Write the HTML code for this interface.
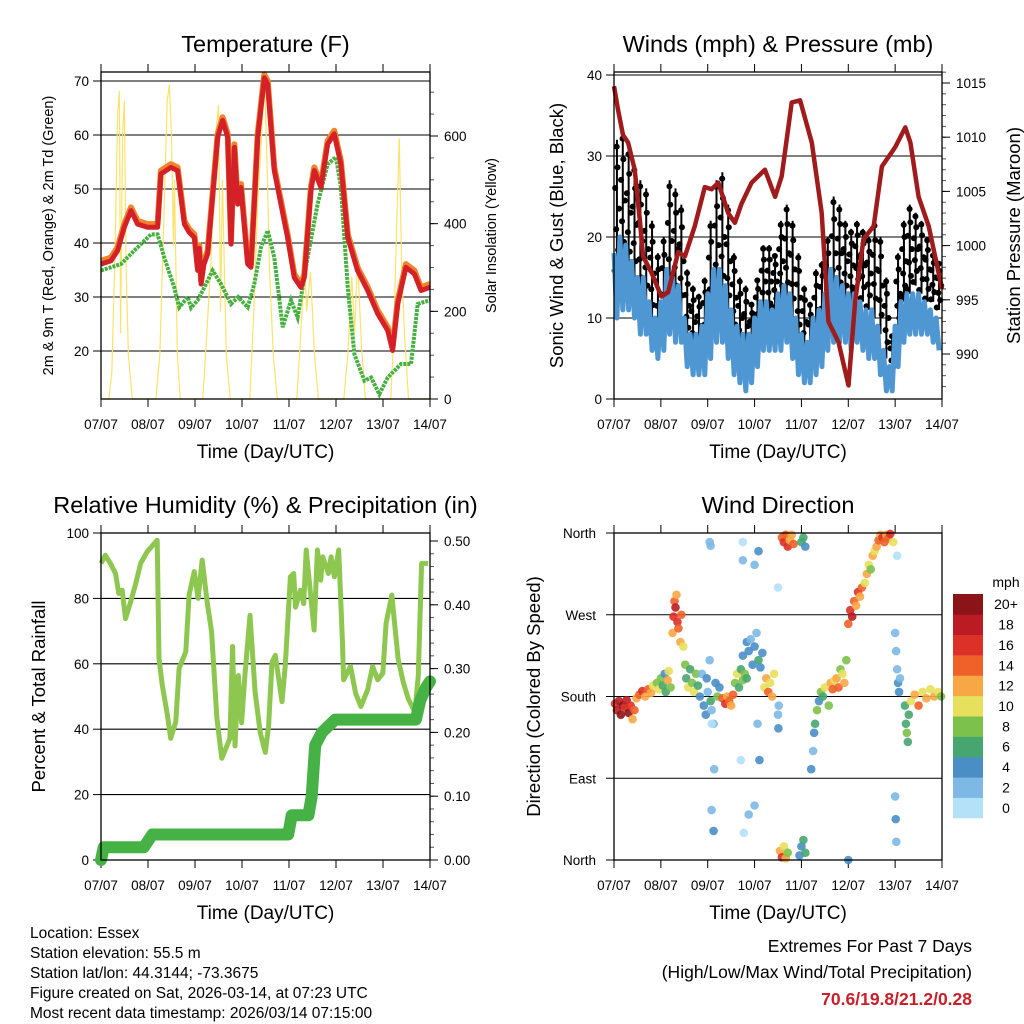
<!DOCTYPE html>
<html><head><meta charset="utf-8">
<style>
html,body{margin:0;padding:0;background:#fff;}
svg{display:block;font-family:"Liberation Sans",Arial,sans-serif;}
</style></head>
<body>
<svg id="fig" width="1024" height="1024" viewBox="0 0 1024 1024" xmlns="http://www.w3.org/2000/svg">
<rect width="1024" height="1024" fill="#fff"/>
<g id="p1"></g>
<g id="p2"></g>
<g id="p3"></g>
<g id="p4"></g>
<g font-size="15.5" fill="#000">
<text x="30" y="938">Location: Essex</text>
<text x="30" y="958">Station elevation: 55.5 m</text>
<text x="30" y="978">Station lat/lon: 44.3144; -73.3675</text>
<text x="30" y="998">Figure created on Sat, 2026-03-14, at 07:23 UTC</text>
<text x="30" y="1018">Most recent data timestamp: 2026/03/14 07:15:00</text>
</g>
<g text-anchor="end">
<text x="972" y="952" font-size="17.5">Extremes For Past 7 Days</text>
<text x="972" y="978" font-size="17.5">(High/Low/Max Wind/Total Precipitation)</text>
<text x="972" y="1005" font-size="17.5" font-weight="bold" fill="#c8202a">70.6/19.8/21.2/0.28</text>
</g>
</svg>
<script>
// ---------- data ----------
const dayLabels = ["07/07","08/07","09/07","10/07","11/07","12/07","13/07","14/07"];
const tempTicks = [20,30,40,50,60,70];
const solarTicks = [0,200,400,600];
const windTicks = [0,10,20,30,40];
const presTicks = [990,995,1000,1005,1010,1015];
const rhTicks = [0,20,40,60,80,100];
const rainTicks = [0,0.1,0.2,0.3,0.4,0.5];
const rainTickLabels = ["0.00","0.10","0.20","0.30","0.40","0.50"];
const dirTicks = [0,90,180,270,360];
const dirTickLabels = ["North","East","South","West","North"];
const cbarLabels = ["0","2","4","6","8","10","12","14","16","18","20+"];
const cbarColors = ["#b4e1f7","#7db9e4","#4a8ec6","#47a670","#7cc14b","#e7e05c","#f8a745","#ef6129","#dc3127","#bb1c23","#8c1419"];

const tempHour = [0,5.1,8.5,11.9,15.3,18.7,23.8,28.9,30.6,35.7,39.1,42.6,45,47.7,49.4,50.2,51.1,52.5,54.5,59.6,62.1,64.7,66.4,68.1,69.8,71.5,74.9,76.6,80,83.4,85.1,88.5,95.3,98.7,102.1,103.8,107.2,108.9,112.3,115.7,119.1,122.5,126,131,136.2,141.3,146.4,148.9,151.5,155.7,160,163.4,168];
const tempRed = [36.1,36.7,38.6,42.9,46.0,43.5,42.9,42.9,52.8,54.0,53.4,43.5,42.0,41.0,34.9,39,32.4,36,38.0,59.6,62.7,59.6,39.8,57.7,47.2,50.3,36.1,35.5,59.6,70.6,69.4,53.4,41.0,33.6,31.8,33.6,49.7,53.4,50.3,58.3,60.2,54.6,41.0,34.9,31.2,26.9,23.8,20.1,28.7,35.5,34.3,31.2,31.8];
const dewHour = [0,10.2,17,25.5,28.9,32.3,37.4,40,44.3,46,49.4,52.8,57,61.3,66.4,70,74.9,78.3,81.7,85.1,88.5,92.8,97,100.4,105.5,110.6,115.7,120,122.5,126,129.4,134.5,137.9,142.1,146.4,153.2,158.3,161.7,168];
const dewVal = [34.9,36.1,38.6,41.6,41.6,37.3,31.8,28.1,30.0,28,29.4,31.8,34.9,32.4,28.7,30,28.1,32.4,39.2,42.3,37.3,24.4,29.4,26.2,37.3,47.2,54.6,55.9,50.3,31.8,19.4,14.5,15.1,12.0,15.1,17.6,17.6,28.7,29.4];
const solarHour = [0,4,5.5,7,8.5,9.4,10,11,11.9,12.8,14,16,28,30,32,33.8,34.9,36,37,37.5,39,40.5,52,54,56,58.5,60,61,62,64,66,76,78,80,82,83.4,85,86,88,90,100,102,104,105,107,109,111,124,126,128,129.5,131,133,135,148,149.5,151,152.3,153.5,155,157,168];
const solarVal = [0,0,60,300,650,703,150,600,680,300,100,0,0,100,400,680,717,600,350,500,100,0,0,150,300,600,671,200,500,100,0,0,200,450,600,749,500,300,100,0,0,150,310,200,290,100,0,0,100,280,150,320,120,0,0,150,400,595,300,150,0,0];

const presHour = [0,2.1,4.6,7.2,10.6,13.2,14.9,19.2,24.3,27.7,32.9,36.3,41.4,46.5,50,53.4,58.5,61.9,65.4,70.5,77.3,82.5,85.9,91,95.3,101.3,106.4,109.8,115,120.1,123.5,127.8,133,137.2,144.1,149.2,151.8,156,161.2,168];
const presVal = [1014.7,1012.5,1010.2,1009.5,1007,1002.4,999,997.5,995.3,995.7,999.4,999,1001.8,1005.4,1005.2,1005.8,1003,1002.1,1003.9,1005.8,1007,1004.5,1006.4,1013.2,1013.4,1009.5,1003,993,991.1,987.1,994.8,1000.6,1001.8,1007.3,1009.1,1010.9,1009.5,1004.5,1001.8,996];
const gustHi = [32,33,31,29,27,26,22,18,20,27,26,24,16,14,13,15,22,27,28,24,18,15,14,12,15,19,19,18,22,24,22,18,14,12,16,17,20,25,24,22,21,22,21,20,22,20,15,8,18,22,24,23,22,20,18,17];
const gustLo = [15,16,15,14,12,11,9,8,9,12,11,10,7,5,5,6,9,11,12,10,7,5,4,5,8,10,10,11,12,12,10,7,5,4,6,8,10,11,12,12,12,13,12,11,10,8,5,3,8,12,13,14,13,12,12,11];
const windHi = [18,20,19,17,15,15,12,10,12,16,15,14,10,8,8,9,13,16,16,14,11,9,8,8,10,12,12,11,13,14,13,10,8,7,10,11,13,16,15,14,13,13,12,11,11,9,6,4,9,12,13,13,13,12,11,10];
const windLo = [10,11,11,10,8,8,6,5,6,8,7,7,4,3,3,3,5,7,7,5,3,2,1,2,4,6,6,6,6,7,5,3,2,2,3,4,6,7,7,7,6,7,6,5,5,3,1,1,4,7,8,8,8,8,7,6];

const rhHour = [0,2.2,4.8,7.4,9.1,10.8,12.5,15.1,17.7,20.2,23.6,28.7,29.6,31.3,33.9,35.6,38.2,39.9,43.3,45,47.6,49.6,51.7,54.2,56.5,59.2,61.7,65.8,67.2,68.4,70.1,71.8,73.5,76.1,78.7,81.3,83.9,85.6,87.3,89,92.4,94.1,96.7,98.4,99.3,101.8,103.5,104.8,107,108.8,110.5,112.2,113.2,116.1,117.5,119.2,121.4,123.3,123.9,127.4,130,132.7,136.2,138.7,141.3,143.9,145.6,148.5,151.7,154.3,156.9,160.3,162,163.7,167.1];
const rhVal = [90.7,93.2,90.7,87.6,81.5,82.5,73.8,78.9,84.5,90.7,94.3,97.8,61.6,53.4,44.3,37.2,42.3,58.6,63.7,81.0,88.2,80.0,91.7,79.0,69.8,43.3,31.1,37.2,65.3,34.9,56.4,42.0,56.4,74.8,51.3,39.0,32.9,41.0,60.5,62.6,48.4,59.6,86.6,87.6,77.3,82.5,78.4,94.8,81.5,70.3,94.8,85.6,92.7,87.6,92.7,86.6,94.8,66.3,55.1,59.2,51.0,46.9,52.1,59.2,55.1,57.1,72.4,81.0,61.6,54.4,49.3,45.2,56.4,90.7,90.7];
const rainHour = [0,1.4,21.9,26.2,95.6,97.4,105.9,107.6,109.4,112.8,119.6,160.8,163,165.9,168];
const rainVal = [0,0.02,0.02,0.04,0.04,0.07,0.07,0.10,0.18,0.20,0.22,0.22,0.25,0.27,0.28];

const dirHour = [0.5,1.5,2.5,3.5,4.5,5.5,6.5,7.5,8.5,9.5,10.5,11.5,13,14.5,16,17.5,19,20,22,23,24,25,26,26.5,27.5,28,29,30,30.5,31,31.5,32,32.5,33,34,34.5,35.5,36.5,37,38,39,40,41,42,43,44,45,46,47,47.5,48,49,49.5,50,51,52,53,54,49,49.5,50,50,51,51.3,55.5,57,58,59,60,61,62,63,64,65,66,67,68,66,68,69,70,71,72,73,74,75,76,66,66,72,74,72,69,66.5,65,74.5,73.5,77,78,79,80,81,82,84,84.2,84.4,84,86,87,88,89,90,91,92,85,86,87,88,89,96,97,98,95,96,97,98,101,102,102.5,103,104,105,106,107,108,110,111,112,113,114,115,116,117,118,119,120,121,122,123,124,125,126,127,120,128.5,129.5,130.5,131.5,132.5,133.5,134.5,135.5,136.5,137.5,138.5,139.5,140.5,141.5,143,144,144.5,145,145.5,146,146.5,145,144,144.3,144.6,149,149.5,150,150.5,151,152,154,156,158,160,162,164,166,167.5];
const dirDeg = [172,165,175,160,170,168,176,162,170,155,165,178,182,186,180,188,184,192,195,188,200,192,205,185,198,208,190,250,268,285,278,292,262,255,240,270,235,215,200,190,210,195,185,205,192,180,205,170,160,200,185,220,175,165,150,195,180,190,350,346,150,55,32,100,178,172,180,175,170,182,195,205,190,210,198,205,200,225,240,230,243,215,235,250,220,212,228,350,330,325,340,60,50,30,110,110,150,190,200,185,195,180,205,160,145,170,300,355,350,358,345,352,358,348,10,3,15,2,8,350,355,345,5,15,22,8,100,120,140,150,165,175,185,180,190,170,195,188,198,200,190,210,205,195,220,260,275,268,285,280,295,290,300,0,305,315,325,320,335,340,345,352,358,355,350,358,354,359,350,250,230,210,195,185,200,335,70,45,20,170,150,140,130,160,175,182,170,185,178,188,180,185,180];
const dirSpd = [16,18,19,20,21,17,18,20,16,12,14,12,14,16,13,14,12,10,9,11,8,7,5,7,12,10,9,13,16,15,18,13,17,15,12,14,10,8,6,10,7,8,11,9,7,4,3,4,5,5,3,2,6,2,3,4,8,5,3,2,1,3,4,2,14,16,13,15,12,14,8,10,7,6,9,8,6,4,5,4,3,5,4,3,6,4,5,1,2,3,4,2,3,1,1,4,2,10,12,14,11,13,10,3,4,2,1,14,16,15,17,13,12,15,12,16,10,12,9,6,7,4,5,4,7,6,4,3,5,6,8,4,9,6,10,8,12,14,10,12,14,8,10,13,8,14,16,18,15,13,16,12,14,4,10,12,11,9,12,10,12,14,13,16,15,12,14,16,11,2,2,3,4,4,3,1,3,4,3,6,7,8,7,6,10,12,14,11,13,10,12,11,9];

// ---------- helpers ----------
const NS = "http://www.w3.org/2000/svg";
function mk(parent, tag, attrs, txt){
  const e = document.createElementNS(NS, tag);
  for (const k in attrs) e.setAttribute(k, attrs[k]);
  if (txt !== undefined) e.textContent = txt;
  parent.appendChild(e);
  return e;
}
function lin(d0,d1,r0,r1){ return v => r0 + (v-d0)/(d1-d0)*(r1-r0); }
function pathD(xs, ys, sx, sy){
  let d = "";
  for (let i=0;i<xs.length;i++) d += (i?"L":"M") + sx(xs[i]).toFixed(1) + "," + sy(ys[i]).toFixed(1);
  return d;
}

function frame(g, P, opt){
  const sx = lin(0,168,P.x0,P.x1);
  const grid = mk(g,"g",{stroke:"#000","stroke-width":"1.1"});
  
  
  opt.grid.forEach(v=>{ const y=opt.sy(v); mk(grid,"line",{x1:P.x0,x2:P.x1,y1:y,y2:y}); });
  const lt = mk(g,"g",{"font-size":"13.5","text-anchor":"end"});
  
  
  opt.lticks.forEach((v,i)=>{
    const y=opt.sy(v);
    mk(lt,"line",{x1:P.x0-8,x2:P.x0,y1:y,y2:y,stroke:"#000","stroke-width":"1"});
    const t = mk(lt,"text",{x:P.x0-(opt.lpad||12),y:y+5},opt.llabels?opt.llabels[i]:String(v));
    
    
  });
  if (opt.ry){
    const rt = mk(g,"g",{"font-size":"13.5"});
    
    
    opt.rminor.forEach(v=>{ const y=opt.ry(v); mk(rt,"line",{x1:P.x1,x2:P.x1+4,y1:y,y2:y,stroke:"#555","stroke-width":"1"}); });
    opt.rticks.forEach((v,i)=>{
      const y=opt.ry(v);
      mk(rt,"line",{x1:P.x1,x2:P.x1+8,y1:y,y2:y,stroke:"#000","stroke-width":"1"});
      const t = mk(rt,"text",{x:P.x1+14,y:y+5},opt.rlabels?opt.rlabels[i]:String(v));
      
      
    });
  }
  const xt = mk(g,"g",{"font-size":"13.5","text-anchor":"middle"});
  
  
  dayLabels.forEach((lab,i)=>{
    const x = sx(i*24);
    mk(xt,"line",{x1:x,x2:x,y1:P.y1,y2:P.y1+8,stroke:"#000","stroke-width":"1"});
    mk(xt,"line",{x1:x,x2:x,y1:P.y0,y2:P.y0-8,stroke:"#000","stroke-width":"1"});
    const t = mk(xt,"text",{x:x,y:P.y1+30},lab);
    
    
  });
  const xtitle = mk(g,"text",{x:(P.x0+P.x1)/2,y:P.y1+59,"font-size":"19","text-anchor":"middle"},"Time (Day/UTC)");
  
  
  const title = mk(g,"text",{x:(P.x0+P.x1)/2,y:P.y0-20,"font-size":"23.5","text-anchor":"middle"},opt.title);
  
  
  const yl = mk(g,"text",{x:0,y:0,"font-size":opt.lfs,"text-anchor":"middle",transform:`translate(${opt.lx},${(P.y0+P.y1)/2}) rotate(-90)`},opt.ltitle);
  
  
  if (opt.rtitle){
    const yr = mk(g,"text",{x:0,y:0,"font-size":opt.rfs,"text-anchor":"middle",transform:`translate(${opt.rx},${(P.y0+P.y1)/2}) rotate(-90)`},opt.rtitle);
    
    
  }
  return sx;
}
function border(g,P){
  const b = mk(g,"rect",{x:P.x0,y:P.y0,width:P.x1-P.x0,height:P.y1-P.y0,fill:"none",stroke:"#000","stroke-width":"1.3"});
  
  
}
function range(a,b,s){ const r=[]; for(let v=a; v<=b+1e-9; v+=s) r.push(+v.toFixed(3)); return r; }

// ---------- panel 1: temperature ----------
(function(){
  const g = document.getElementById("p1");
  const P = {x0:101,x1:430,y0:72,y1:399};
  const sy = lin(20,70,351,81);
  const ry = lin(0,600,399,136);
  const sx = frame(g,P,{sy, grid:tempTicks, lticks:tempTicks, ry, rticks:solarTicks, rminor:range(0,700,50),
    title:"Temperature (F)", ltitle:"2m & 9m T (Red, Orange) & 2m Td (Green)", lx:53, lfs:"14.5",
    rtitle:"Solar Insolation (Yellow)", rx:496, rfs:"14.5"});
  const solar = mk(g,"path",{d:pathD(solarHour,solarVal,sx,ry),fill:"none",stroke:"#fbe36a","stroke-width":"1.2"});
  
  
  const dew = mk(g,"path",{d:pathD(dewHour,dewVal,sx,sy),fill:"none",stroke:"#46b040","stroke-width":"4","stroke-dasharray":"3 1"});
  
  
  const orange = mk(g,"path",{d:pathD(tempHour,tempRed.map(v=>v+0.6),sx,sy),fill:"none",stroke:"#f0832c","stroke-width":"6","stroke-linejoin":"round"});
  
  
  const red = mk(g,"path",{d:pathD(tempHour,tempRed,sx,sy),fill:"none",stroke:"#d42027","stroke-width":"5","stroke-linejoin":"round"});
  
  
  border(g,P);
})();

// ---------- panel 2: winds & pressure ----------
(function(){
  const g = document.getElementById("p2");
  const P = {x0:614,x1:942,y0:72,y1:399};
  const sy = lin(0,40,399,75);
  const ry = lin(990,1015,354,83);
  const sx = frame(g,P,{sy, grid:[10,20,30,40], lticks:windTicks, ry, rticks:presTicks, rminor:range(987,1016,1),
    title:"Winds (mph) & Pressure (mb)", ltitle:"Sonic Wind & Gust (Blue, Black)", lx:563, lfs:"18.5",
    rtitle:"Station Pressure (Maroon)", rx:1020, rfs:"18.5"});
  const gg = mk(g,"g",{fill:"#000"});
  
  
  const fr = [0.05,0.2,0.35,0.5,0.65,0.8,0.95];
  const off = [-1.2,0.6,-0.4,1.1,-0.9,0.3,-0.1];
  gustHi.forEach((hi,i)=>{
    const h = i*3+1.5, lo = gustLo[i];
    const x = sx(h);
    const bar = mk(gg,"line",{x1:x,x2:x,y1:sy(lo),y2:sy(hi),stroke:"#000","stroke-width":"2"});
    
    
    fr.forEach((f,k)=>{
      const v = lo + (hi-lo)*f;
      const c = mk(gg,"circle",{cx:sx(h + off[k]),cy:sy(v),r:3});
      
      
    });
  });
  const wx=[], wy=[];
  windHi.forEach((hi,i)=>{ wx.push(i*3); wy.push(hi); wx.push(i*3+1.5); wy.push(windLo[i]); });
  const wl = mk(g,"path",{d:pathD(wx,wy,sx,sy),fill:"none",stroke:"#4f97d3","stroke-width":"5","stroke-linejoin":"round"});
  
  
  const pl = mk(g,"path",{d:pathD(presHour,presVal,sx,ry),fill:"none",stroke:"#a01b1b","stroke-width":"4.5","stroke-linejoin":"round"});
  
  
  border(g,P);
})();

// ---------- panel 3: RH & precip ----------
(function(){
  const g = document.getElementById("p3");
  const P = {x0:101,x1:430,y0:533,y1:860};
  const sy = lin(0,100,860,533);
  const ry = lin(0,0.5,860,541);
  const sx = frame(g,P,{sy, grid:[20,40,60,80], lticks:rhTicks, ry, rticks:rainTicks, rlabels:rainTickLabels, rminor:range(0,0.51,0.02),
    title:"Relative Humidity (%) & Precipitation (in)", ltitle:"Percent & Total Rainfall", lx:45, lfs:"18.5"});
  const rh = mk(g,"path",{d:pathD(rhHour,rhVal,sx,sy),fill:"none",stroke:"#8dc74f","stroke-width":"5","stroke-linejoin":"round"});
  
  
  const rl = mk(g,"path",{d:pathD(rainHour,rainVal,sx,ry),fill:"none",stroke:"#46b245","stroke-width":"12","stroke-linejoin":"round","stroke-linecap":"round"});
  
  
  border(g,P);
})();

// ---------- panel 4: wind direction ----------
(function(){
  const g = document.getElementById("p4");
  const P = {x0:614,x1:942,y0:533,y1:860};
  const sy = lin(0,360,860,533);
  const sx = frame(g,P,{sy, grid:[90,180,270,360], lticks:dirTicks, llabels:dirTickLabels, lpad:18,
    title:"Wind Direction", ltitle:"Direction (Colored By Speed)", lx:540, lfs:"18.5"});
  const dg = mk(g,"g",{"fill-opacity":"0.9"});
  
  
  dirHour.forEach((h,i)=>{
    const bin = Math.min(10, Math.floor(dirSpd[i]/2));
    const c = mk(dg,"circle",{cx:sx(h),cy:sy(dirDeg[i]),r:4.3,fill:cbarColors[bin]});
    
    
  });
  border(g,P);
  const cb = mk(g,"g",{"font-size":"14","text-anchor":"middle"});
  
  
  const top=594, bot=818, h=(bot-top)/11;
  const unit = mk(cb,"text",{x:1006,y:587},"mph");
  
  
  cbarColors.forEach((col,i)=>{
    const y = bot - (i+1)*h;
    const r = mk(cb,"rect",{x:953,y:y,width:30,height:h+0.3,fill:col});
    
    
    const t = mk(cb,"text",{x:1006,y:y+h/2+5},cbarLabels[i]);
    
    
  });
})();
</script>
</body></html>
